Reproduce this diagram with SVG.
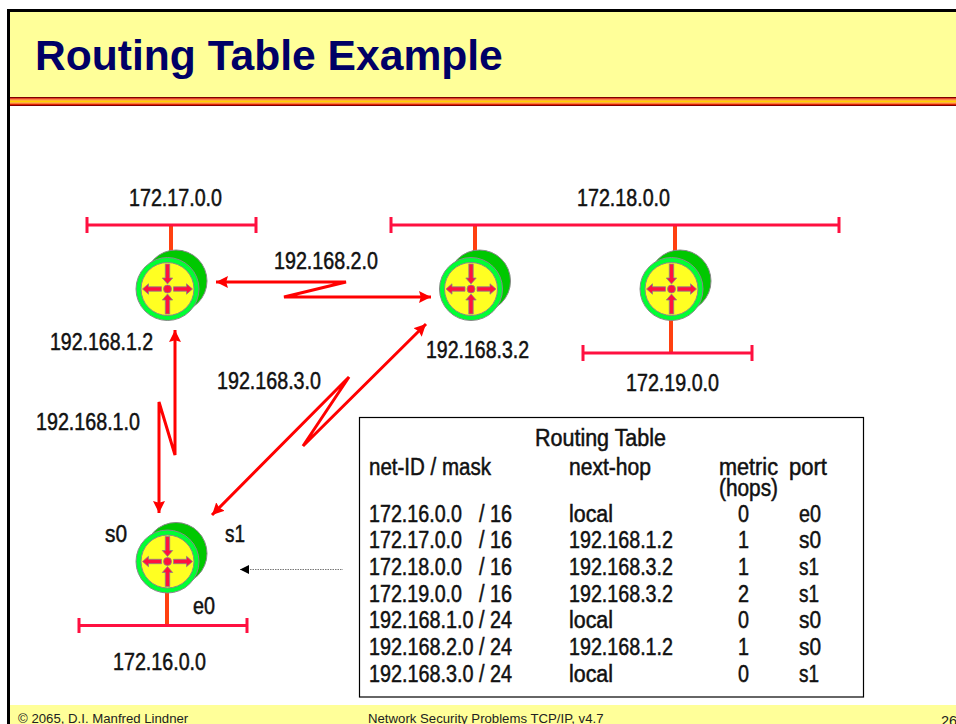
<svg xmlns="http://www.w3.org/2000/svg" width="956" height="724" viewBox="0 0 956 724">
<style>
text{font-family:"Liberation Sans",Arial,sans-serif;fill:#111;font-size:23px;stroke:#111;stroke-width:.5px}
.t{font-size:42.6px;font-weight:bold;fill:#000066;stroke:none}
.f{font-size:13.2px;stroke:none;fill:#222}
.n{font-size:14.5px;stroke:none;fill:#222}
.bus{stroke:#FF1040;stroke-width:3;fill:none}
.stem{stroke:#FF4010;stroke-width:4;fill:none}
.link{stroke:#FF0000;stroke-width:3;fill:none;marker-start:url(#a);marker-end:url(#a);stroke-linejoin:miter}
.ar{fill:#FF1040;stroke:#888;stroke-width:.8}
</style>
<defs>
<marker id="a" viewBox="0 0 10 10" refX="10" refY="5" markerWidth="4" markerHeight="4" orient="auto-start-reverse"><path d="M0 0L10 5L0 10L1.5 5Z" fill="#FF0000"/></marker>
<marker id="k" viewBox="0 0 10 10" refX="10" refY="5" markerWidth="9" markerHeight="9" markerUnits="userSpaceOnUse" orient="auto-start-reverse"><path d="M0 0L10 5L0 10Z" fill="#000"/></marker>
<g id="router">
<circle cx="8.5" cy="-8" r="31" fill="#00C800" stroke="#888" stroke-width="1"/>
<circle cx="0" cy="0" r="31.5" fill="#00FF33" stroke="#888" stroke-width="1"/>
<circle cx="0" cy="0" r="26.5" fill="#FFFF22" stroke="#888" stroke-width="1"/>
<circle cx="0" cy="0" r="4" class="ar"/>
<path class="ar" d="M-2.200 -25H2.200V-11H5.200L0 -5L-5.200 -11H-2.200Z"/>
<path class="ar" d="M-2.200 25H2.200V11H5.200L0 5L-5.200 11H-2.200Z"/>
<path class="ar" d="M-6 -2.200H-19V-5.200L-25 0L-19 5.200V2.200H-6Z"/>
<path class="ar" d="M6 -2.200H19V-5.200L25 0L19 5.200V2.200H6Z"/>
</g>
</defs>
<rect width="956" height="724" fill="#fff"/>
<g id="frame">
<rect x="9" y="11" width="947" height="87" fill="#FFFF99"/>
<rect x="8" y="97" width="948" height="1.200" fill="#800000"/>
<rect x="8" y="98.200" width="948" height="1.300" fill="#E02000"/>
<rect x="8" y="99.500" width="948" height="1.200" fill="#FF8000"/>
<rect x="8" y="100.700" width="948" height="1.800" fill="#FFD000"/>
<rect x="8" y="102.500" width="948" height="1.200" fill="#FF8000"/>
<rect x="8" y="103.700" width="948" height="1.300" fill="#E02000"/>
<rect x="8" y="105" width="948" height="1" fill="#800000"/>
<path d="M8.500 724V10.500H956" fill="none" stroke="#000" stroke-width="3"/>
<rect x="10" y="705" width="946" height="19" fill="#FFFF99"/>
</g>
<text class="t" x="35" y="70">Routing Table Example</text>
<g id="connectors">
<path class="stem" d="M171 225V252M475 225V252M675 225V252M671 318V353M167 592V625"/>
<path class="bus" d="M87 225H256M87 217V233M256 217V233"/>
<path class="bus" d="M391 225H839M391 217V233M839 217V233"/>
<path class="bus" d="M583 353H752M583 345V361M752 345V361"/>
<path class="bus" d="M79 625.500H247M79 618V633M247 618V633"/>
<path class="link" d="M216 282H346L284 297H431"/>
<path class="link" d="M426 324L303 446L349 377L212 515"/>
<path class="link" d="M175 330V455L159 402V513"/>
<path d="M240 569.500H343" stroke="#777" stroke-width="1" stroke-dasharray="1.500 1" fill="none" marker-start="url(#k)"/>
</g>
<g id="r1"><use href="#router" x="167.500" y="289"/></g>
<g id="r2"><use href="#router" x="471" y="289"/></g>
<g id="r3"><use href="#router" x="671.500" y="289"/></g>
<g id="r4"><use href="#router" x="167.500" y="561.500"/></g>
<g id="labels">
<text x="129" y="206" textLength="93" lengthAdjust="spacingAndGlyphs">172.17.0.0</text>
<text x="577" y="206" textLength="93" lengthAdjust="spacingAndGlyphs">172.18.0.0</text>
<text x="274" y="269" textLength="104" lengthAdjust="spacingAndGlyphs">192.168.2.0</text>
<text x="50" y="350" textLength="103" lengthAdjust="spacingAndGlyphs">192.168.1.2</text>
<text x="426" y="358" textLength="103" lengthAdjust="spacingAndGlyphs">192.168.3.2</text>
<text x="626" y="391" textLength="93" lengthAdjust="spacingAndGlyphs">172.19.0.0</text>
<text x="217" y="389" textLength="104" lengthAdjust="spacingAndGlyphs">192.168.3.0</text>
<text x="36" y="430" textLength="104" lengthAdjust="spacingAndGlyphs">192.168.1.0</text>
<text x="105" y="542" textLength="22" lengthAdjust="spacingAndGlyphs">s0</text>
<text x="225" y="542" textLength="20" lengthAdjust="spacingAndGlyphs">s1</text>
<text x="193" y="614" textLength="22" lengthAdjust="spacingAndGlyphs">e0</text>
<text x="113" y="670" textLength="93" lengthAdjust="spacingAndGlyphs">172.16.0.0</text>
</g>
<g id="routing-table">
<rect x="359.500" y="417.500" width="504" height="279.500" fill="#fff" stroke="#000" stroke-width="1.200"/>
<text x="535" y="446" textLength="131" lengthAdjust="spacingAndGlyphs">Routing Table</text>
<text x="369" y="475" textLength="122" lengthAdjust="spacingAndGlyphs">net-ID / mask</text>
<text x="569" y="475" textLength="82" lengthAdjust="spacingAndGlyphs">next-hop</text>
<text x="719" y="475" textLength="59" lengthAdjust="spacingAndGlyphs">metric</text>
<text x="789" y="475" textLength="38" lengthAdjust="spacingAndGlyphs">port</text>
<text x="719" y="496" textLength="59" lengthAdjust="spacingAndGlyphs">(hops)</text>
<text x="369" y="522" textLength="93" lengthAdjust="spacingAndGlyphs">172.16.0.0</text><text x="479" y="522" textLength="33" lengthAdjust="spacingAndGlyphs">/ 16</text><text x="569" y="522" textLength="44" lengthAdjust="spacingAndGlyphs">local</text><text x="738" y="522" textLength="11" lengthAdjust="spacingAndGlyphs">0</text><text x="799" y="522" textLength="22" lengthAdjust="spacingAndGlyphs">e0</text>
<text x="369" y="548" textLength="93" lengthAdjust="spacingAndGlyphs">172.17.0.0</text><text x="479" y="548" textLength="33" lengthAdjust="spacingAndGlyphs">/ 16</text><text x="569" y="548" textLength="104" lengthAdjust="spacingAndGlyphs">192.168.1.2</text><text x="738" y="548" textLength="11" lengthAdjust="spacingAndGlyphs">1</text><text x="799" y="548" textLength="22" lengthAdjust="spacingAndGlyphs">s0</text>
<text x="369" y="575" textLength="93" lengthAdjust="spacingAndGlyphs">172.18.0.0</text><text x="479" y="575" textLength="33" lengthAdjust="spacingAndGlyphs">/ 16</text><text x="569" y="575" textLength="104" lengthAdjust="spacingAndGlyphs">192.168.3.2</text><text x="738" y="575" textLength="11" lengthAdjust="spacingAndGlyphs">1</text><text x="799" y="575" textLength="20" lengthAdjust="spacingAndGlyphs">s1</text>
<text x="369" y="602" textLength="93" lengthAdjust="spacingAndGlyphs">172.19.0.0</text><text x="479" y="602" textLength="33" lengthAdjust="spacingAndGlyphs">/ 16</text><text x="569" y="602" textLength="104" lengthAdjust="spacingAndGlyphs">192.168.3.2</text><text x="738" y="602" textLength="11" lengthAdjust="spacingAndGlyphs">2</text><text x="799" y="602" textLength="20" lengthAdjust="spacingAndGlyphs">s1</text>
<text x="369" y="628" textLength="143" lengthAdjust="spacingAndGlyphs">192.168.1.0 / 24</text><text x="569" y="628" textLength="44" lengthAdjust="spacingAndGlyphs">local</text><text x="738" y="628" textLength="11" lengthAdjust="spacingAndGlyphs">0</text><text x="799" y="628" textLength="22" lengthAdjust="spacingAndGlyphs">s0</text>
<text x="369" y="655" textLength="143" lengthAdjust="spacingAndGlyphs">192.168.2.0 / 24</text><text x="569" y="655" textLength="104" lengthAdjust="spacingAndGlyphs">192.168.1.2</text><text x="738" y="655" textLength="11" lengthAdjust="spacingAndGlyphs">1</text><text x="799" y="655" textLength="22" lengthAdjust="spacingAndGlyphs">s0</text>
<text x="369" y="682" textLength="143" lengthAdjust="spacingAndGlyphs">192.168.3.0 / 24</text><text x="569" y="682" textLength="44" lengthAdjust="spacingAndGlyphs">local</text><text x="738" y="682" textLength="11" lengthAdjust="spacingAndGlyphs">0</text><text x="799" y="682" textLength="20" lengthAdjust="spacingAndGlyphs">s1</text>
</g>
<g id="footer">
<text class="f" x="18" y="723">© 2065, D.I. Manfred Lindner</text>
<text class="f" x="368" y="723">Network Security Problems TCP/IP, v4.7</text>
<text class="n" x="941" y="726">26</text>
</g>
</svg>
